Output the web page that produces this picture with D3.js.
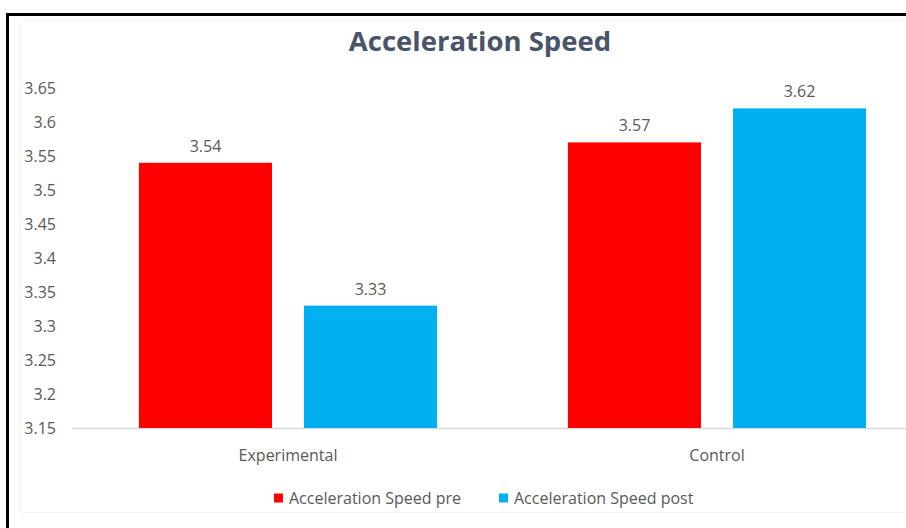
<!DOCTYPE html>
<html>
<head>
<meta charset="utf-8">
<script src="https://cdn.jsdelivr.net/npm/d3@7"></script>
<style>
  html, body { margin: 0; padding: 0; background: #fff; }
  svg { display: block; }
</style>
</head>
<body>
<svg id="chart" width="906" height="528"></svg>
<script>
const title = "Acceleration Speed";
const categories = ["Experimental", "Control"];
const seriesNames = ["Acceleration Speed pre", "Acceleration Speed post"];
const preValues = [3.54, 3.57];
const postValues = [3.33, 3.62];
const yTicks = [3.15, 3.2, 3.25, 3.3, 3.35, 3.4, 3.45, 3.5, 3.55, 3.6, 3.65];
const colors = ["#FF0000", "#00B0F0"];

const svg = d3.select("#chart");
const font = "'Open Sans', 'Liberation Sans', sans-serif";
const textColor = "#595959";
const fs = 16;

// frame
svg.append("rect").attr("x", 7.5).attr("y", 14.5).attr("width", 940).attr("height", 540)
  .attr("fill", "#fff").attr("stroke", "#000").attr("stroke-width", 3);
// faint inner chart-area frame
svg.append("rect").attr("x", 20.5).attr("y", 20.5).attr("width", 940).attr("height", 492)
  .attr("fill", "none").attr("stroke", "#F2F2F2").attr("stroke-width", 1);

const plot = { left: 73.5, right: 931.5, top: 88, bottom: 428 };

const y = d3.scaleLinear().domain([3.15, 3.65]).range([plot.bottom, plot.top]);
const x0 = d3.scaleBand().domain(categories).range([plot.left, plot.right]).paddingInner(0.305).paddingOuter(0.1525);
const x1 = d3.scaleBand().domain(seriesNames).range([0, x0.bandwidth()]).paddingInner(0.194);

// title
svg.append("text").attr("x", 480).attr("y", 51).attr("text-anchor", "middle")
  .attr("font-family", font).attr("font-weight", "bold").attr("font-size", 27.5)
  .attr("fill", "#4A5468").text(title);

// y axis labels
const yAxis = d3.axisLeft(y).tickValues(yTicks).tickSize(0).tickPadding(0).tickFormat(d3.format("~g"));
const yg = svg.append("g").attr("transform", `translate(56,0)`).call(yAxis);
yg.select(".domain").remove();
yg.selectAll("text").attr("font-family", font).attr("font-size", fs).attr("fill", textColor);

// baseline
svg.append("line").attr("x1", 72).attr("x2", 906).attr("y1", plot.bottom + 0.5).attr("y2", plot.bottom + 0.5)
  .attr("stroke", "#D9D9D9").attr("stroke-width", 1.5);

const data = categories.map((c, i) => ({ cat: c, vals: [preValues[i], postValues[i]] }));

const groups = svg.append("g").selectAll("g").data(data).join("g")
  .attr("transform", d => `translate(${x0(d.cat)},0)`);

groups.selectAll("rect").data(d => d.vals.map((v, j) => ({ s: seriesNames[j], v, j })))
  .join("rect")
  .attr("x", d => x1(d.s)).attr("width", x1.bandwidth())
  .attr("y", d => y(d.v)).attr("height", d => y(3.15) - y(d.v))
  .attr("fill", d => colors[d.j]);

groups.selectAll("text.val").data(d => d.vals.map((v, j) => ({ s: seriesNames[j], v, j })))
  .join("text").attr("class", "val")
  .attr("x", d => x1(d.s) + x1.bandwidth() / 2).attr("y", d => y(d.v) - 11)
  .attr("text-anchor", "middle").attr("font-family", font).attr("font-size", fs)
  .attr("fill", textColor).text(d => d.v.toFixed(2));

// x axis labels
const xAxis = d3.axisBottom(x0).tickSize(0).tickPadding(0);
const xg = svg.append("g").attr("transform", `translate(0,${plot.bottom})`).call(xAxis);
xg.select(".domain").remove();
xg.selectAll("text").attr("font-family", font).attr("font-size", fs).attr("fill", textColor)
  .attr("dy", null).attr("y", 33);

// legend
const legendX = [274, 499];
const lg = svg.append("g").selectAll("g").data(seriesNames).join("g")
  .attr("transform", (d, i) => `translate(${legendX[i]},498)`);
lg.append("rect").attr("x", 0).attr("y", -4.5).attr("width", 9).attr("height", 9).attr("fill", (d, i) => colors[i]);
lg.append("text").attr("x", 15).attr("y", 0).attr("dy", "0.35em")
  .attr("font-family", font).attr("font-size", fs).attr("fill", textColor).text(d => d);
</script>
</body>
</html>
